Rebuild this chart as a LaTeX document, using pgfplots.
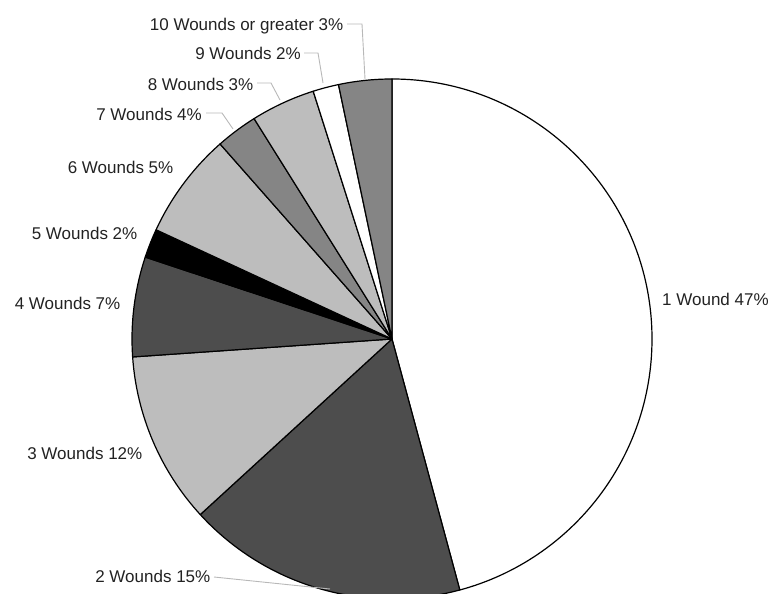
\documentclass[border=0pt]{standalone}
\usepackage{pgfplots}
\pgfplotsset{compat=1.18}
\usepackage{pgfplotstable}
\usepackage{fontspec}
\setmainfont{Liberation Sans}
\definecolor{dk}{HTML}{4D4D4D}
\definecolor{lt}{HTML}{BDBDBD}
\definecolor{md}{HTML}{858585}
\definecolor{txt}{HTML}{222222}
\definecolor{lead}{HTML}{B8B8B8}

% share of the circle drawn for each slice (percent), clockwise from 12 o'clock
\pgfplotstableread{
wounds pct col
1  45.8 white
2  17.4 dk
3  10.7 lt
4  6.2  dk
5  1.8  black
6  6.6  lt
7  2.6  md
8  4.0  lt
9  1.6  white
10 3.3  md
}\slices

\def\piecmds{}
\def\cur{90}
\pgfplotsforeachungrouped \i in {0,...,9}{%
  \pgfplotstablegetelem{\i}{pct}\of\slices \let\p\pgfplotsretval
  \pgfplotstablegetelem{\i}{col}\of\slices \let\c\pgfplotsretval
  \pgfmathsetmacro\nxt{\cur-3.6*\p}%
  \ifnum\i=9 \def\nxt{-270}\fi
  \edef\piecmds{\unexpanded\expandafter{\piecmds}%
    \noexpand\filldraw[fill=\c, draw=black, line width=1.2pt, line join=round]
      (axis cs:392,255) -- ++(\cur:260pt) arc[start angle=\cur, end angle=\nxt, radius=260pt] -- cycle;}%
  \let\cur\nxt
}

\tikzset{lab/.style={font=\fontsize{17}{20}\selectfont, text=txt, inner sep=0pt}}

\begin{document}
\begin{tikzpicture}
\path[use as bounding box, clip] (0,0) rectangle (771pt,594pt);
\begin{axis}[
  at={(0,0)}, anchor=south west,
  x=1pt, y=1pt,
  xmin=0, xmax=771, ymin=0, ymax=594,
  hide axis, clip=true,
]
\piecmds
% leader lines
\draw[lead, line width=0.9pt] (axis cs:347,570) -- (axis cs:362,570) -- (axis cs:365,515);
\draw[lead, line width=0.9pt] (axis cs:304,541) -- (axis cs:318,541) -- (axis cs:323,511);
\draw[lead, line width=0.9pt] (axis cs:257,511) -- (axis cs:271,511) -- (axis cs:280,494);
\draw[lead, line width=0.9pt] (axis cs:206,481) -- (axis cs:222,481) -- (axis cs:233,465);
\draw[lead, line width=0.9pt] (axis cs:214,17) -- (axis cs:330,5);
% labels
\node[lab, anchor=base east] at (axis cs:343.5,563) {10 Wounds or greater 3\%};
\node[lab, anchor=base east] at (axis cs:301,534) {9 Wounds 2\%};
\node[lab, anchor=base east] at (axis cs:253.5,503.3) {8 Wounds 3\%};
\node[lab, anchor=base east] at (axis cs:202,473.3) {7 Wounds 4\%};
\node[lab, anchor=base east] at (axis cs:173.5,420.7) {6 Wounds 5\%};
\node[lab, anchor=base east] at (axis cs:137.5,354.7) {5 Wounds 2\%};
\node[lab, anchor=base east] at (axis cs:120.5,284) {4 Wounds 7\%};
\node[lab, anchor=base east] at (axis cs:142.5,134) {3 Wounds 12\%};
\node[lab, anchor=base east] at (axis cs:210.5,11.3) {2 Wounds 15\%};
\node[lab, anchor=base west] at (axis cs:662,288.3) {1 Wound 47\%};
\end{axis}
\end{tikzpicture}
\end{document}
